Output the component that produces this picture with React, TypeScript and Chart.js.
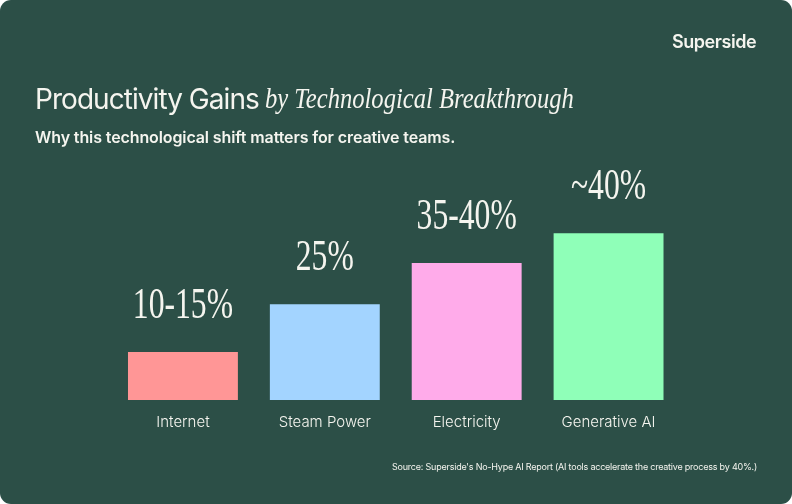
import { useRef, useEffect } from 'react';
import Chart from 'chart.js/auto';

const categories = ['Internet', 'Steam Power', 'Electricity', 'Generative AI'];
const values = [11.5, 23, 32.9, 40];
const valueLabels = ['10-15%', '25%', '35-40%', '~40%'];
const barColors = ['#FF9696', '#A3D4FF', '#FFABEA', '#8FFFB8'];

const BG = '#2C4F47';
const INK = '#F5F5EF';
const SANS = 'Inter, sans-serif';
const SERIF = '"Liberation Serif", serif';

// tall condensed serif numbers above the bars
const valueLabelPlugin = {
  id: 'valueLabels',
  afterDatasetsDraw(chart: any) {
    const ctx = chart.ctx;
    chart.getDatasetMeta(0).data.forEach((bar: any, i: number) => {
      ctx.save();
      ctx.translate(bar.x, bar.y - 34);
      ctx.scale(0.72, 1);
      ctx.fillStyle = INK;
      ctx.font = `44px ${SERIF}`;
      ctx.textAlign = 'center';
      ctx.textBaseline = 'alphabetic';
      ctx.fillText(valueLabels[i], 0, 0);
      ctx.restore();
    });
  },
};

const App = () => {
  const chartRef = useRef<HTMLCanvasElement | null>(null);

  useEffect(() => {
    document.body.style.margin = '0';
    document.body.style.background = '#fff';
    const chart = new Chart(chartRef.current!, {
      type: 'bar',
      data: {
        labels: categories,
        datasets: [
          {
            data: values,
            backgroundColor: barColors,
            categoryPercentage: 1,
            barPercentage: 110 / 142,
          },
        ],
      },
      options: {
        animation: false,
        responsive: false,
        layout: { padding: { left: 112, right: 112.5, top: 150, bottom: 0 } },
        plugins: { legend: { display: false }, tooltip: { enabled: false } },
        scales: {
          x: {
            grid: { display: false },
            border: { display: false },
            afterFit: (scale: any) => {
              scale.height = 104;
            },
            ticks: {
              color: INK,
              padding: 5,
              maxRotation: 0,
              font: { family: SANS, size: 15, weight: 300 },
            },
          },
          y: { display: false, min: 0, max: 60 },
        },
      },
      plugins: [valueLabelPlugin],
    } as any);
    return () => {
      chart.destroy();
    };
  }, []);

  return (
    <div style={{ position: 'relative', width: 792, height: 504, background: BG, borderRadius: 11, overflow: 'hidden', color: INK }}>
      <canvas ref={chartRef} width={792} height={504} style={{ display: 'block' }} />
      <div style={{ position: 'absolute', left: 672, top: 31, fontFamily: SANS, fontSize: 18, fontWeight: 600, letterSpacing: -0.45, lineHeight: '22px' }}>
        Superside
      </div>
      <div style={{ position: 'absolute', left: 35, top: 81, whiteSpace: 'nowrap', lineHeight: '36px' }}>
        <span style={{ fontFamily: SANS, fontSize: 28, fontWeight: 400, letterSpacing: -0.95 }}>Productivity Gains</span>
      </div>
      <div style={{ position: 'absolute', left: 265, top: 80, whiteSpace: 'nowrap', lineHeight: '36px', transformOrigin: 'left center', transform: 'scaleX(0.82)' }}>
        <span style={{ fontFamily: SERIF, fontSize: 30, fontStyle: 'italic' }}>by Technological Breakthrough</span>
      </div>
      <div style={{ position: 'absolute', left: 35, top: 126, whiteSpace: 'nowrap', fontFamily: SANS, fontSize: 16, fontWeight: 600, letterSpacing: -0.11, lineHeight: '22px' }}>
        Why this technological shift matters for creative teams.
      </div>
      <div style={{ position: 'absolute', right: 35, top: 460, whiteSpace: 'nowrap', fontFamily: SANS, fontSize: 9, fontWeight: 400, letterSpacing: -0.22, lineHeight: '14px' }}>
        Source: Superside's No-Hype AI Report (AI tools accelerate the creative process by 40%.)
      </div>
    </div>
  );
};

export default App;
